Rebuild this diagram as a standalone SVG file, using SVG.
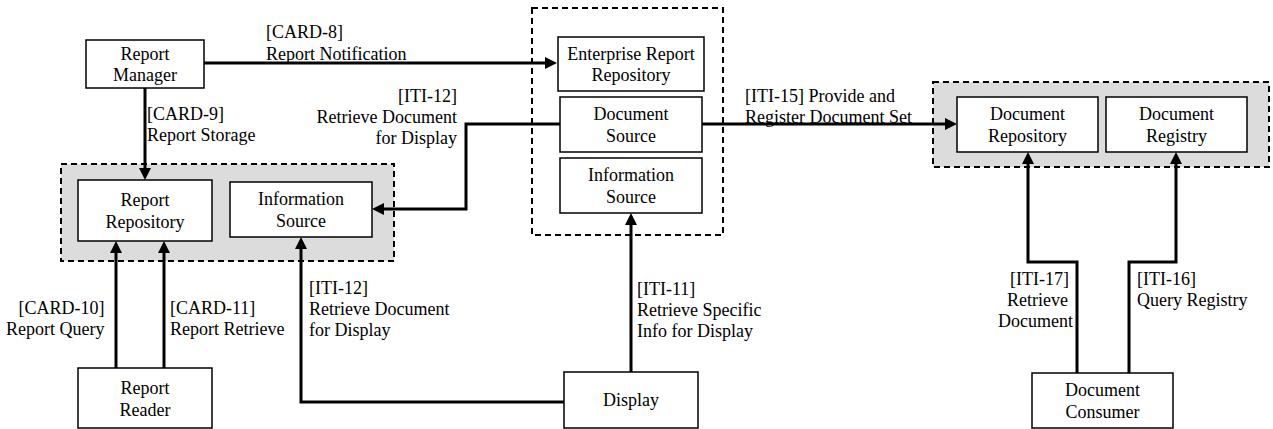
<svg xmlns="http://www.w3.org/2000/svg" width="1273" height="429" viewBox="0 0 1273 429">
<style>
text{font-family:"Liberation Serif","Times New Roman",serif;font-size:18px;fill:#000}
.c{text-anchor:middle}
.e{text-anchor:end}
.box{fill:#fff;stroke:#000;stroke-width:1.5}
.grp{stroke:#000;stroke-width:2;stroke-dasharray:6,4}
.con{fill:none;stroke:#000;stroke-width:3;marker-end:url(#ah)}
</style>
<defs>
<marker id="ah" viewBox="0 0 12 12" markerWidth="12" markerHeight="12" markerUnits="userSpaceOnUse" refX="2" refY="6" orient="auto">
<path d="M0,0 L12,6 L0,12 z" fill="#000"/>
</marker>
</defs>
<g id="groups">
<rect id="grp-left" class="grp" x="61" y="164" width="333" height="97" fill="#dcdcdc"/>
<rect id="grp-center" class="grp" x="532" y="8" width="191" height="227" fill="none"/>
<rect id="grp-right" class="grp" x="933" y="82" width="336" height="85" fill="#dcdcdc"/>
</g>
<g id="n-report-manager"><rect class="box" x="86" y="40" width="118" height="48"/><text class="c" x="145" y="59.5">Report</text><text class="c" x="145" y="81">Manager</text></g>
<g id="n-enterprise"><rect class="box" x="558" y="37" width="146" height="54"/><text class="c" x="631" y="59.5">Enterprise Report</text><text class="c" x="631" y="81">Repository</text></g>
<g id="n-doc-source"><rect class="box" x="560" y="97" width="142" height="55"/><text class="c" x="631" y="120">Document</text><text class="c" x="631" y="141.5">Source</text></g>
<g id="n-info-source-c"><rect class="box" x="560" y="158" width="142" height="55"/><text class="c" x="631" y="181">Information</text><text class="c" x="631" y="202.5">Source</text></g>
<g id="n-report-repo"><rect class="box" x="78" y="180" width="134" height="61"/><text class="c" x="145" y="206">Report</text><text class="c" x="145" y="227.5">Repository</text></g>
<g id="n-info-source-l"><rect class="box" x="230" y="182" width="142" height="55"/><text class="c" x="301" y="205">Information</text><text class="c" x="301" y="226.5">Source</text></g>
<g id="n-display"><rect class="box" x="564" y="372" width="134" height="56"/><text class="c" x="631" y="406">Display</text></g>
<g id="n-report-reader"><rect class="box" x="78" y="368" width="134" height="60"/><text class="c" x="145" y="394">Report</text><text class="c" x="145" y="415.5">Reader</text></g>
<g id="n-doc-repo"><rect class="box" x="957" y="97" width="141" height="55"/><text class="c" x="1027.5" y="120">Document</text><text class="c" x="1027.5" y="141.5">Repository</text></g>
<g id="n-doc-registry"><rect class="box" x="1106" y="97" width="141" height="55"/><text class="c" x="1176.5" y="120">Document</text><text class="c" x="1176.5" y="141.5">Registry</text></g>
<g id="n-doc-consumer"><rect class="box" x="1032" y="373" width="141" height="55"/><text class="c" x="1102.5" y="396">Document</text><text class="c" x="1102.5" y="417.5">Consumer</text></g>
<g id="connectors">
<path class="con" d="M204,63 H547"/>
<path class="con" d="M145,88 V170"/>
<path class="con" d="M560,124 H466 V209 H382"/>
<path class="con" d="M702,124 H947"/>
<path class="con" d="M116,368 V251"/>
<path class="con" d="M164,368 V251"/>
<path class="con" d="M564,402 H301 V247"/>
<path class="con" d="M631,372 V223"/>
<path class="con" d="M1077,373 V262 H1028 V162"/>
<path class="con" d="M1129,373 V262 H1176 V162"/>
</g>
<g id="labels">
<text x="266" y="38">[CARD-8]</text><text x="266" y="59.5">Report Notification</text>
<text x="147" y="120">[CARD-9]</text><text x="147" y="140.5">Report Storage</text>
<text class="e" x="457" y="102">[ITI-12]</text><text class="e" x="457" y="123">Retrieve Document</text><text class="e" x="457" y="144">for Display</text>
<text x="745" y="102">[ITI-15] Provide and</text><text x="745" y="122.5">Register Document Set</text>
<text x="309" y="294">[ITI-12]</text><text x="309" y="315">Retrieve Document</text><text x="309" y="336">for Display</text>
<text x="637" y="295">[ITI-11]</text><text x="637" y="316">Retrieve Specific</text><text x="637" y="337">Info for Display</text>
<text class="e" x="104.5" y="314">[CARD-10]</text><text class="e" x="104.5" y="335">Report Query</text>
<text x="170" y="314">[CARD-11]</text><text x="170" y="335">Report Retrieve</text>
<text x="1010" y="285">[ITI-17]</text><text x="1007" y="306">Retrieve</text><text x="998" y="327">Document</text>
<text x="1137" y="285">[ITI-16]</text><text x="1137" y="306">Query Registry</text>
</g>
</svg>
